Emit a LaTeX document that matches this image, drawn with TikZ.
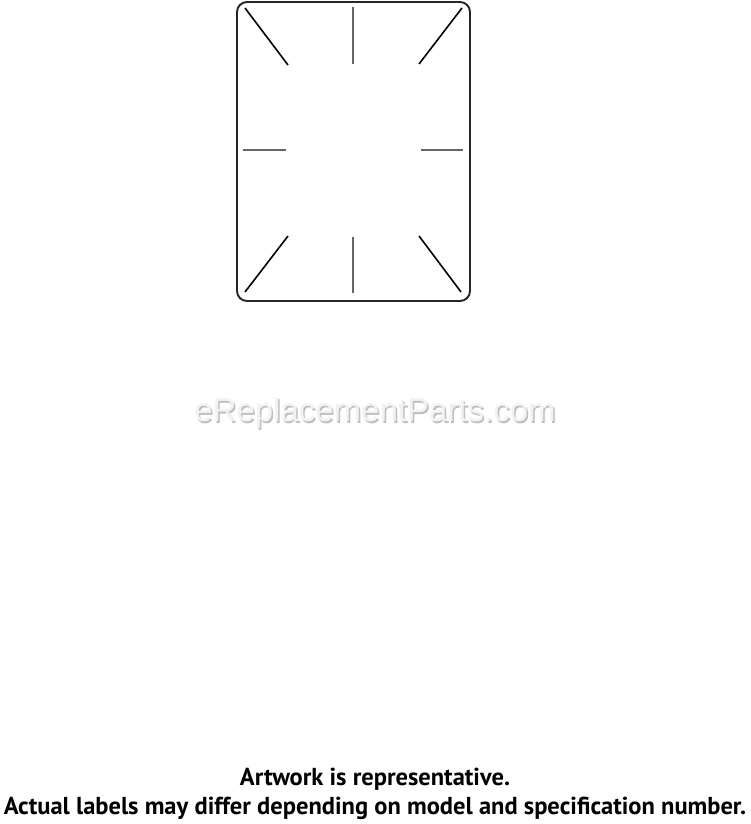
\documentclass[tikz,border=0pt]{standalone}
\usepackage{fontspec}
\setmainfont{PT Sans}
\newfontfamily\wmfont{Liberation Sans}
\begin{document}
\begin{tikzpicture}[x=1pt,y=-1pt,
  frame/.style={draw=black!85,line width=1.9pt,rounded corners=10pt},
  diag/.style={draw=black,line width=1.6pt},
  tick/.style={draw=black!60,line width=1.1pt},
  wm/.style={font=\wmfont\fontsize{33}{33}\selectfont,inner sep=0pt},
  note/.style={font=\bfseries\fontsize{24.5}{24.5}\selectfont,inner sep=0pt}]
\useasboundingbox (0,0) rectangle (750,824);
\fill[white] (0,0) rectangle (750,824);
% plate
\draw[frame] (237,2) rectangle (470,301);
\draw[diag] (245,8) -- (288,65);
\draw[diag] (462,8) -- (419,64);
\draw[diag] (288,236) -- (245,292);
\draw[diag] (419,236) -- (461,292);
\draw[tick] (353,7) -- (353,64);
\draw[tick] (353,237) -- (353,293);
\draw[tick] (243,150) -- (286,150);
\draw[tick] (421,150) -- (463,150);
% watermark
\node[wm,text=black!25] (wmshadow) at (376.5,414.5) {eReplacementParts.com};
\node[wm,text=black!5] (wmark) at (375,413) {eReplacementParts.com};
% notes
\node[note,anchor=base] (note1) at (375,785) {Artwork is representative.};
\node[note,anchor=base] (note2) at (375,814) {Actual labels may differ depending on model and specification number.};
\end{tikzpicture}
\end{document}
